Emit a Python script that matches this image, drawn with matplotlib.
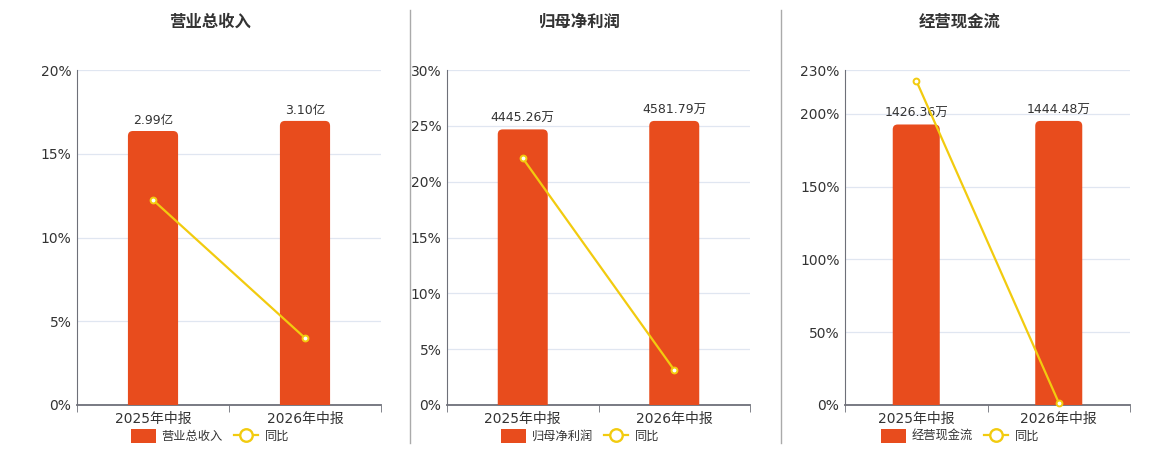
import matplotlib
matplotlib.use("Agg")
import matplotlib.pyplot as plt
from matplotlib.patches import FancyBboxPatch, Patch
from matplotlib.lines import Line2D
from matplotlib.ticker import FuncFormatter

plt.rcParams['font.family'] = ['DejaVu Sans', 'Noto Sans CJK SC']

categories = ["2025年中报", "2026年中报"]

titles = ["营业总收入", "归母净利润", "经营现金流"]
bar_values = [[2.99, 3.10], [4445.26, 4581.79], [1426.36, 1444.48]]
bar_labels = [["2.99亿", "3.10亿"], ["4445.26万", "4581.79万"], ["1426.36万", "1444.48万"]]
yoy_values = [[12.24, 4.0], [22.1, 3.13], [222.7, 1.6]]
y_ticks = [[0, 5, 10, 15, 20], [0, 5, 10, 15, 20, 25, 30], [0, 50, 100, 150, 200, 230]]
line_name = "同比"

BAR_COLOR = "#E84C1D"
LINE_COLOR = "#F2CB0F"
GRID_COLOR = "#E0E6F1"
AXIS_COLOR = "#6E7079"
TEXT_COLOR = "#333333"

W, H = 1160, 450
fig = plt.figure(figsize=(W / 100, H / 100), dpi=100)

axes_px = [(77, 381), (447, 750), (845, 1130)]
title_x = [210, 580, 960]
top_px, bottom_px = 70, 405

for i in range(3):
    x0, x1 = axes_px[i]
    rect = [x0 / W, (H - bottom_px) / H, (x1 - x0) / W, (bottom_px - top_px) / H]
    ax = fig.add_axes(rect)
    ax.set_zorder(1)
    ymax = y_ticks[i][-1]
    ax.set_ylim(0, ymax)
    ax.set_xlim(-0.5, 1.5)
    ax.set_yticks(y_ticks[i])
    ax.yaxis.set_major_formatter(FuncFormatter(lambda v, p: f"{v:g}%"))
    ax.tick_params(axis='y', length=0, labelsize=10, labelcolor=TEXT_COLOR, pad=4)
    ax.set_xticks(range(len(categories)))
    ax.set_xticklabels(categories)
    ax.tick_params(axis='x', length=0, labelsize=10, labelcolor=TEXT_COLOR, pad=5)
    ax.set_xticks([-0.5, 0.5, 1.5], minor=True)
    ax.tick_params(axis='x', which='minor', length=5, color=AXIS_COLOR, direction='out')
    ax.grid(axis='y', color=GRID_COLOR, linewidth=0.9)
    ax.set_axisbelow(True)
    for s in ['top', 'right']:
        ax.spines[s].set_visible(False)
    ax.spines['left'].set_color(AXIS_COLOR)
    ax.spines['bottom'].set_color(AXIS_COLOR)
    ax.spines['bottom'].set_linewidth(1.3)
    ax.spines['left'].set_linewidth(0.8)

    # bar axis (hidden)
    axb = ax.twinx()
    axb.set_zorder(2)
    axb.patch.set_visible(False)
    axb.set_ylim(0, max(bar_values[i]) / 0.848)
    axb.set_xlim(-0.5, 1.5)
    axb.axis('off')
    bars = axb.bar(range(len(categories)), bar_values[i], width=0.33, color=BAR_COLOR)
    # rounded top corners
    ylo, yhi = axb.get_ylim()
    ax_h_px = bottom_px - top_px
    ax_w_px = x1 - x0
    data_per_px_y = (yhi - ylo) / ax_h_px
    data_per_px_x = 2.0 / ax_w_px
    r_px = 5
    for b in bars:
        b.set_visible(False)
        bx, bw, bh = b.get_x(), b.get_width(), b.get_height()
        ext = 10 * data_per_px_y
        fp = FancyBboxPatch((bx, -ext), bw, bh + ext,
                            boxstyle=f"round,pad=0,rounding_size={r_px * data_per_px_x}",
                            mutation_aspect=data_per_px_y / data_per_px_x,
                            facecolor=BAR_COLOR, edgecolor='none', clip_on=True)
        axb.add_patch(fp)
        fp.set_clip_path(axb.patch)
    for j, b in enumerate(bars):
        axb.annotate(bar_labels[i][j], (b.get_x() + b.get_width() / 2, b.get_height()),
                     xytext=(0, 3), textcoords='offset points', ha='center', va='bottom',
                     fontsize=9, color=TEXT_COLOR)

    # line axis
    axl = ax.twinx()
    axl.set_zorder(3)
    axl.patch.set_visible(False)
    axl.set_ylim(0, ymax)
    axl.set_xlim(-0.5, 1.5)
    axl.axis('off')
    axl.plot(range(len(categories)), yoy_values[i], color=LINE_COLOR, linewidth=1.6,
             marker='o', markersize=4.2, markerfacecolor='white', markeredgecolor=LINE_COLOR,
             markeredgewidth=1.4, clip_on=False)

    fig.text(title_x[i] / W, 1 - 22 / H, titles[i], ha='center', va='center',
             fontsize=11.8, fontweight='bold', color=TEXT_COLOR)

    handles = [Patch(facecolor=BAR_COLOR, edgecolor='none'),
               Line2D([0], [0], color=LINE_COLOR, linewidth=1.6, marker='o', markersize=9,
                      markerfacecolor='white', markeredgecolor=LINE_COLOR, markeredgewidth=1.7)]
    leg = fig.legend(handles, [titles[i], line_name], loc='center',
                     bbox_to_anchor=(title_x[i] / W, 1 - 436 / H), ncol=2, frameon=False,
                     fontsize=8.8, handlelength=2.0, handleheight=1.4, columnspacing=0.9,
                     handletextpad=0.5, labelcolor=TEXT_COLOR)

# separators
for xs in [410, 781]:
    fig.add_artist(Line2D([xs / W, xs / W], [1 - 10 / H, 1 - 443 / H], color="#AAAAAA", linewidth=1))

fig.savefig("out.png", dpi=100, facecolor='white')
